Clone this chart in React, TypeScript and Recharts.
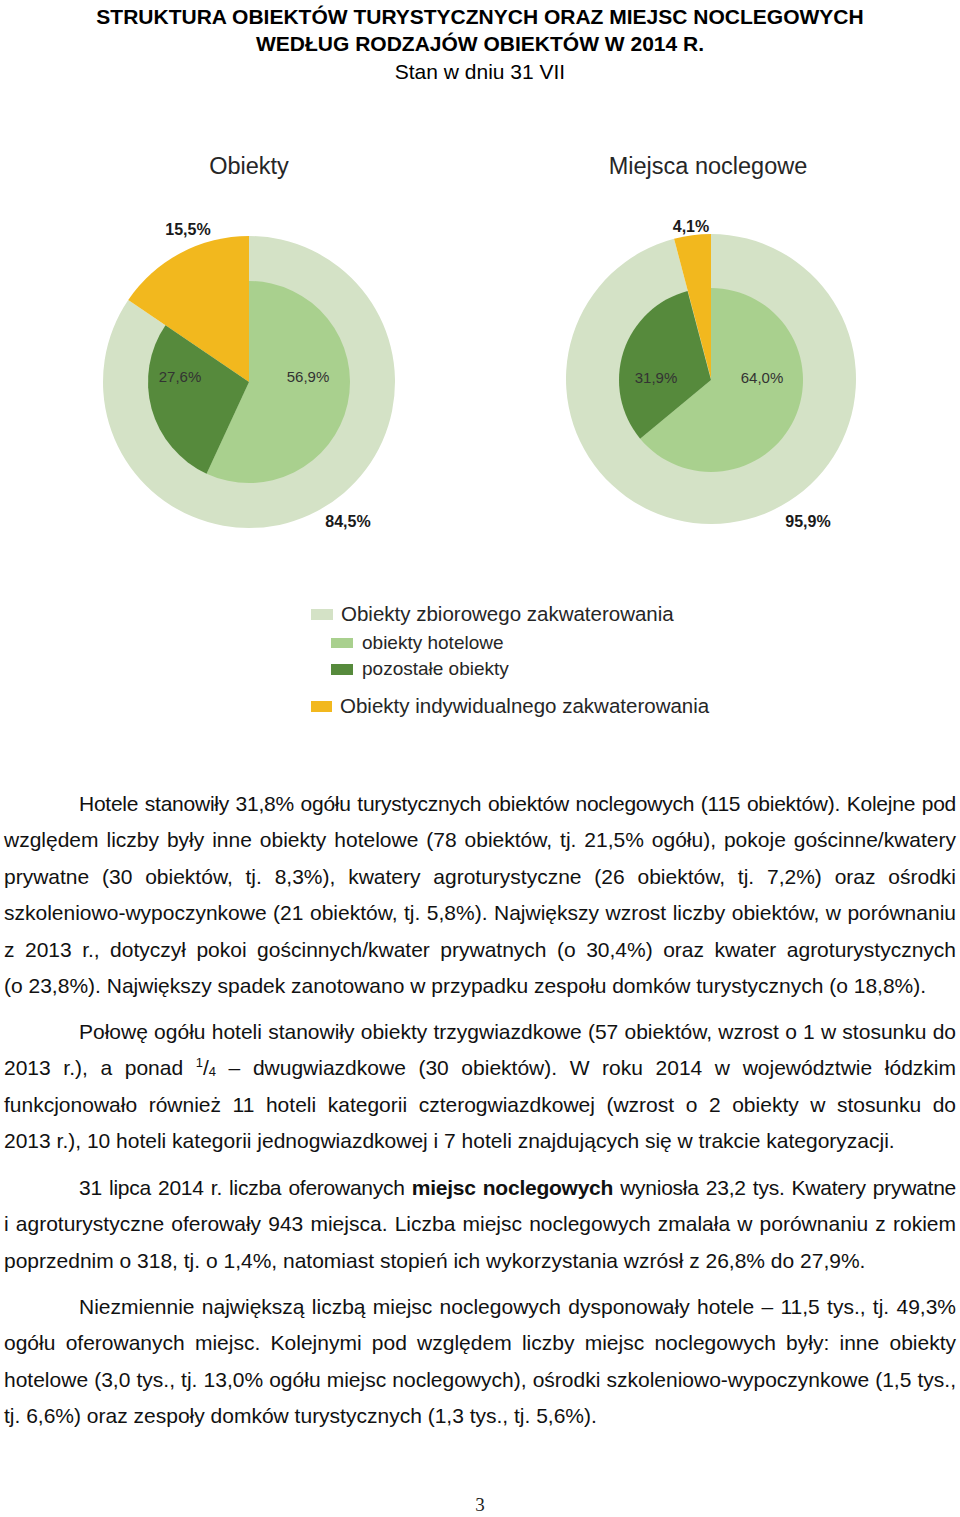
import React from 'react';
import { PieChart, Pie, Cell } from 'recharts';

// udział w ogółem (%), stan w dniu 31 VII 2014
const outerNames = ['Obiekty zbiorowego zakwaterowania', 'Obiekty indywidualnego zakwaterowania'];
const innerNames = ['obiekty hotelowe', 'pozostałe obiekty', 'indywidualne'];

const obiektyOuter = [84.5, 15.5];
const obiektyInner = [56.9, 27.6, 15.5];
const miejscaOuter = [95.9, 4.1];
const miejscaInner = [64.0, 31.9, 4.1];

const COL_ZBIOR = '#d4e2c6';
const COL_HOTEL = '#a9d08e';
const COL_POZ = '#568a3c';
const COL_INDYW = '#f2b81e';

const outerColors = [COL_ZBIOR, COL_INDYW];
const innerColors = [COL_HOTEL, COL_POZ, 'none'];

const FONT = '"Liberation Sans", Arial, sans-serif';

// przesunięcia etykiet względem środka koła (jak w oryginale)
const leftOuterLbl = [[99, 139], [-61, -153]];
const leftInnerLbl = [[59, -6], [-69, -6]];
const rightOuterLbl = [[97, 142], [-20, -153]];
const rightInnerLbl = [[51, -3], [-55, -3]];

const fmt = (v: number) => v.toFixed(1).replace('.', ',') + '%';

const toData = (names: string[], values: number[]) =>
  values.map((v, i) => ({ name: names[i], value: v }));

const makeLabel = (offs: number[][], bold: boolean) => (props: any) => {
  const { cx, cy, index, value } = props;
  if (!offs[index]) return null;
  return (
    <text
      key={'l' + index}
      x={cx + offs[index][0]}
      y={cy + offs[index][1]}
      textAnchor="middle"
      dominantBaseline="central"
      fontFamily={FONT}
      fontSize={bold ? 16 : 15}
      fontWeight={bold ? 'bold' : 'normal'}
      fill={bold ? '#1a1a1a' : '#333'}
    >
      {fmt(value)}
    </text>
  );
};

const LegendRow = ({ color, text, x, y, size, box }: any) => (
  <div style={{ position: 'absolute', left: x, top: y - 14, height: 28, display: 'flex', alignItems: 'center' }}>
    <div style={{ width: box[0], height: box[1], background: color, marginRight: size > 20 ? 8 : 9 }} />
    <span style={{ fontSize: size, color: '#262626', whiteSpace: 'nowrap' }}>{text}</span>
  </div>
);

const Line = ({ children, last, indent, tight }: any) => (
  <div
    style={{
      height: 36.4,
      lineHeight: '36.4px',
      textAlign: 'justify',
      textAlignLast: last ? 'left' : 'justify',
      paddingLeft: indent ? 75 : 0,
      whiteSpace: 'nowrap',
      letterSpacing: tight ? '-0.25px' : undefined,
    }}
  >
    {children}
  </div>
);

const pieCommon = {
  dataKey: 'value',
  innerRadius: 0,
  startAngle: 90,
  endAngle: -270,
  stroke: 'none',
  labelLine: false,
  isAnimationActive: false,
};

const App: React.FC = () => {
  return (
    <div
      style={{
        position: 'absolute',
        left: 0,
        top: 0,
        width: 960,
        height: 1517,
        background: '#fff',
        fontFamily: FONT,
        color: '#000',
        overflow: 'hidden',
      }}
    >
      <div style={{ position: 'absolute', top: 3, left: 0, width: 960, textAlign: 'center', fontSize: 21, fontWeight: 'bold', lineHeight: '27px' }}>
        <div>STRUKTURA OBIEKTÓW TURYSTYCZNYCH ORAZ MIEJSC NOCLEGOWYCH</div>
        <div>WEDŁUG RODZAJÓW OBIEKTÓW W 2014 R.</div>
      </div>
      <div style={{ position: 'absolute', top: 58, left: 0, width: 960, textAlign: 'center', fontSize: 21, lineHeight: '28px' }}>
        Stan w dniu 31 VII
      </div>

      <div style={{ position: 'absolute', top: 150, left: 149, width: 200, textAlign: 'center', fontSize: 23.5, color: '#262626', lineHeight: '32px' }}>
        Obiekty
      </div>
      <div style={{ position: 'absolute', top: 150, left: 558, width: 300, textAlign: 'center', fontSize: 23.5, color: '#262626', lineHeight: '32px' }}>
        Miejsca noclegowe
      </div>

      <div style={{ position: 'absolute', left: 0, top: 0 }}>
        <PieChart width={960} height={560} margin={{ top: 0, right: 0, bottom: 0, left: 0 }}>
          <Pie
            {...pieCommon}
            data={toData(outerNames, obiektyOuter)}
            cx={249}
            cy={382}
            outerRadius={146}
            label={makeLabel(leftOuterLbl, true)}
          >
            {obiektyOuter.map((_, i) => (
              <Cell key={i} fill={outerColors[i]} />
            ))}
          </Pie>
          <Pie
            {...pieCommon}
            data={toData(innerNames, obiektyInner)}
            cx={249}
            cy={382}
            outerRadius={101}
            label={makeLabel(leftInnerLbl, false)}
          >
            {obiektyInner.map((_, i) => (
              <Cell key={i} fill={innerColors[i]} />
            ))}
          </Pie>
          <Pie
            {...pieCommon}
            data={toData(outerNames, miejscaOuter)}
            cx={711}
            cy={379}
            outerRadius={145}
            label={makeLabel(rightOuterLbl, true)}
          >
            {miejscaOuter.map((_, i) => (
              <Cell key={i} fill={outerColors[i]} />
            ))}
          </Pie>
          <Pie
            {...pieCommon}
            data={toData(innerNames, miejscaInner)}
            cx={711}
            cy={380}
            outerRadius={92}
            label={makeLabel(rightInnerLbl, false)}
          >
            {miejscaInner.map((_, i) => (
              <Cell key={i} fill={innerColors[i]} />
            ))}
          </Pie>
        </PieChart>
      </div>

      <LegendRow color={COL_ZBIOR} text={outerNames[0]} x={311} y={614} size={20.5} box={[22, 11]} />
      <LegendRow color={COL_HOTEL} text={innerNames[0]} x={331} y={643} size={19} box={[22, 10]} />
      <LegendRow color={COL_POZ} text={innerNames[1]} x={331} y={669} size={19} box={[22, 11]} />
      <LegendRow color={COL_INDYW} text={outerNames[1]} x={311} y={706} size={20.5} box={[21, 11]} />

      <div style={{ position: 'absolute', left: 4, width: 952, top: 786, fontSize: 21, color: '#111' }}>
        <Line indent tight>Hotele stanowiły 31,8% ogółu turystycznych obiektów noclegowych (115 obiektów). Kolejne pod</Line>
        <Line>względem liczby były inne obiekty hotelowe (78 obiektów, tj. 21,5% ogółu), pokoje gościnne/kwatery</Line>
        <Line>prywatne (30 obiektów, tj. 8,3%), kwatery agroturystyczne (26 obiektów, tj. 7,2%) oraz ośrodki</Line>
        <Line>szkoleniowo-wypoczynkowe (21 obiektów, tj. 5,8%). Największy wzrost liczby obiektów, w porównaniu</Line>
        <Line>z 2013 r., dotyczył pokoi gościnnych/kwater prywatnych (o 30,4%) oraz kwater agroturystycznych</Line>
        <Line last>(o 23,8%). Największy spadek zanotowano w przypadku zespołu domków turystycznych (o 18,8%).</Line>
      </div>

      <div style={{ position: 'absolute', left: 4, width: 952, top: 1014, fontSize: 21, color: '#111' }}>
        <Line indent>Połowę ogółu hoteli stanowiły obiekty trzygwiazdkowe (57 obiektów, wzrost o 1 w stosunku do</Line>
        <Line>
          2013 r.), a ponad <sup style={{ fontSize: 13, lineHeight: 0 }}>1</sup>/<sub style={{ fontSize: 13, lineHeight: 0, verticalAlign: '-1px' }}>4</sub> – dwugwiazdkowe (30 obiektów). W roku 2014 w województwie łódzkim
        </Line>
        <Line>funkcjonowało również 11 hoteli kategorii czterogwiazdkowej (wzrost o 2 obiekty w stosunku do</Line>
        <Line last>2013 r.), 10 hoteli kategorii jednogwiazdkowej i 7 hoteli znajdujących się w trakcie kategoryzacji.</Line>
      </div>

      <div style={{ position: 'absolute', left: 4, width: 952, top: 1170, fontSize: 21, color: '#111' }}>
        <Line indent tight>
          31 lipca 2014 r. liczba oferowanych <b>miejsc noclegowych</b> wyniosła 23,2 tys. Kwatery prywatne
        </Line>
        <Line>i agroturystyczne oferowały 943 miejsca. Liczba miejsc noclegowych zmalała w porównaniu z rokiem</Line>
        <Line last>poprzednim o 318, tj. o 1,4%, natomiast stopień ich wykorzystania wzrósł z 26,8% do 27,9%.</Line>
      </div>

      <div style={{ position: 'absolute', left: 4, width: 952, top: 1289, fontSize: 21, color: '#111' }}>
        <Line indent>Niezmiennie największą liczbą miejsc noclegowych dysponowały hotele – 11,5 tys., tj. 49,3%</Line>
        <Line>ogółu oferowanych miejsc. Kolejnymi pod względem liczby miejsc noclegowych były: inne obiekty</Line>
        <Line>hotelowe (3,0 tys., tj. 13,0% ogółu miejsc noclegowych), ośrodki szkoleniowo-wypoczynkowe (1,5 tys.,</Line>
        <Line last>tj. 6,6%) oraz zespoły domków turystycznych (1,3 tys., tj. 5,6%).</Line>
      </div>

      <div style={{ position: 'absolute', left: 0, width: 960, top: 1495, height: 20, lineHeight: '20px', textAlign: 'center', fontFamily: '"Liberation Serif", "Times New Roman", serif', fontSize: 19, color: '#222' }}>
        3
      </div>
    </div>
  );
};

export default App;
